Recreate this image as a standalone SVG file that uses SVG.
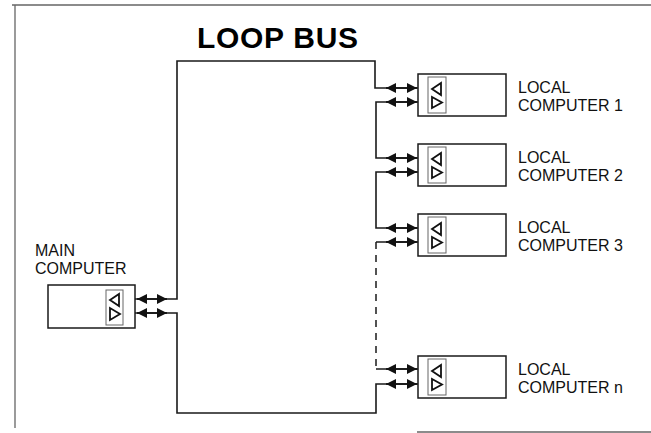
<svg xmlns="http://www.w3.org/2000/svg" xmlns:xlink="http://www.w3.org/1999/xlink" width="651" height="433" viewBox="0 0 651 433">
<style>
.frame{fill:none;stroke:#666;stroke-width:1.3}
.bus{fill:none;stroke:#1a1a1a;stroke-width:1.6}
.dash{fill:none;stroke:#1a1a1a;stroke-width:1.5;stroke-dasharray:7,6}
.arr{fill:none;stroke:#111;stroke-width:1.6;marker-start:url(#head);marker-end:url(#head)}
.box{fill:#fff;stroke:#1a1a1a;stroke-width:1.5}
.inner{fill:#fff;stroke:#666;stroke-width:1}
.tri{fill:none;stroke:#111;stroke-width:1.8;stroke-linejoin:miter}
.lbl{font-family:"Liberation Sans",Arial,sans-serif;font-size:16px;fill:#111}
.title{font-family:"Liberation Sans",Arial,sans-serif;font-size:30px;font-weight:bold;fill:#000}
</style>
<defs>
<marker id="head" markerUnits="userSpaceOnUse" markerWidth="11" markerHeight="10" refX="10" refY="5" orient="auto-start-reverse">
<path d="M0,0 L10,5 L0,10 z" fill="#111"/>
</marker>
<g id="localbox">
<rect class="box" x="0" y="0" width="88" height="42"/>
<rect class="inner" x="10" y="3" width="18" height="36"/>
<polygon class="tri" points="14,15 23,9 23,21"/>
<polygon class="tri" points="14,23 14,34 24,28.5"/>
</g>
</defs>
<rect width="651" height="433" fill="#fff"/>
<g id="frame">
<path class="frame" d="M12,5 H651 M15,5 V428 M417,432 H651"/>
</g>
<g id="title">
<text class="title" x="197" y="48" textLength="161">LOOP BUS</text>
</g>
<g id="connectors">
<path class="bus" d="M135,299 H177 V61 H375 V88 H418"/>
<path class="bus" d="M418,102 H376 V158 H418"/>
<path class="bus" d="M418,172 H376 V228 H418"/>
<path class="bus" d="M418,242 H376"/>
<path class="dash" d="M376,242 V369"/>
<path class="bus" d="M376,369 H418"/>
<path class="bus" d="M418,384 H376 V413 H177 V313 H135"/>
<path class="arr" d="M137,299 H167"/>
<path class="arr" d="M137,313 H167"/>
<path class="arr" d="M386,88 H417"/>
<path class="arr" d="M386,102 H417"/>
<path class="arr" d="M386,158 H417"/>
<path class="arr" d="M386,172 H417"/>
<path class="arr" d="M386,228 H417"/>
<path class="arr" d="M386,242 H417"/>
<path class="arr" d="M386,369 H417"/>
<path class="arr" d="M386,384 H417"/>
</g>
<g id="main-computer">
<rect class="box" x="48" y="285" width="87" height="43"/>
<rect class="inner" x="106" y="290" width="17" height="35"/>
<polygon class="tri" points="110,300 119,294 119,306"/>
<polygon class="tri" points="110,308 110,320 120,314"/>
<text class="lbl" x="35" y="256">MAIN</text>
<text class="lbl" x="35" y="274">COMPUTER</text>
</g>
<g id="local-computer-1">
<use xlink:href="#localbox" href="#localbox" x="418" y="74"/>
<text class="lbl" x="518" y="93">LOCAL</text>
<text class="lbl" x="518" y="111">COMPUTER 1</text>
</g>
<g id="local-computer-2">
<use xlink:href="#localbox" href="#localbox" x="418" y="144"/>
<text class="lbl" x="518" y="163">LOCAL</text>
<text class="lbl" x="518" y="181">COMPUTER 2</text>
</g>
<g id="local-computer-3">
<use xlink:href="#localbox" href="#localbox" x="418" y="214"/>
<text class="lbl" x="518" y="233">LOCAL</text>
<text class="lbl" x="518" y="251">COMPUTER 3</text>
</g>
<g id="local-computer-n">
<use xlink:href="#localbox" href="#localbox" x="418" y="356"/>
<text class="lbl" x="518" y="375">LOCAL</text>
<text class="lbl" x="518" y="393">COMPUTER n</text>
</g>
</svg>
